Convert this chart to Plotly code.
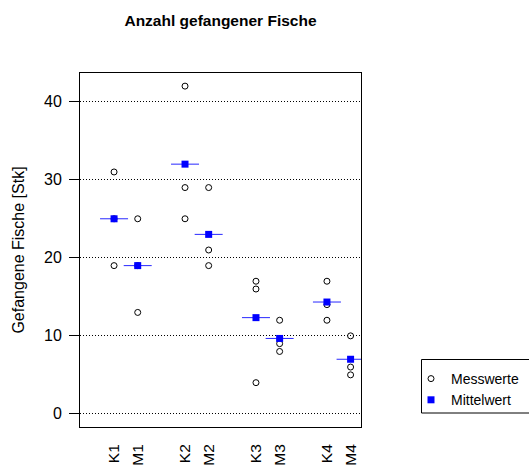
import numpy as np
import plotly.graph_objects as go

# Catch per station (three hauls each)
groups = ["K1", "M1", "K2", "M2", "K3", "M3", "K4", "M4"]
catch_K1 = [31, 25, 19]
catch_M1 = [25, 19, 13]
catch_K2 = [42, 29, 25]
catch_M2 = [29, 21, 19]
catch_K3 = [17, 16, 4]
catch_M3 = [12, 9, 8]
catch_K4 = [17, 14, 12]
catch_M4 = [10, 6, 5]
y_ticks = [0, 10, 20, 30, 40]

catches = [catch_K1, catch_M1, catch_K2, catch_M2,
           catch_K3, catch_M3, catch_K4, catch_M4]

# K/M pairs side by side, one empty slot between pairs
xpos = [i + i // 2 + 1 for i in range(len(groups))]

pts_x, pts_y = [], []
for x, vals in zip(xpos, catches):
    pts_x += [x] * len(vals)
    pts_y += vals
means = [float(np.mean(v)) for v in catches]

FONT = "Liberation Sans, Arial, sans-serif"

fig = go.Figure()
fig.add_trace(go.Scatter(
    x=pts_x, y=pts_y, mode="markers", name="Messwerte",
    marker=dict(symbol="circle-open", size=6, color="black",
                line=dict(width=1, color="black")),
))
fig.add_trace(go.Scatter(
    x=xpos, y=means, mode="markers", showlegend=False, hoverinfo="skip",
    marker=dict(symbol="line-ew", size=20, color="blue",
                line=dict(width=1, color="rgb(40,40,255)")),
))
fig.add_trace(go.Scatter(
    x=xpos, y=means, mode="markers", name="Mittelwert",
    marker=dict(symbol="square", size=7, color="blue", line=dict(width=0)),
))

# plot area in pixels: x 80..361, y 73..427
L, R, T, B = 80, 168, 73, 39
W, H = 529, 466
pw, ph = W - L - R, H - T - B

def px_x(p):
    return (p - L) / pw

def px_y(p):
    return (H - B - p) / ph

fig.update_layout(
    width=W, height=H,
    margin=dict(l=L, r=R, t=T, b=B, autoexpand=False),
    paper_bgcolor="white", plot_bgcolor="white",
    font=dict(family=FONT, size=16, color="black"),
    title=dict(text="<b>Anzahl gefangener Fische</b>", x=0.5, xref="paper",
               y=1 - 20.5 / H, yref="container", yanchor="middle",
               xanchor="center", font=dict(size=15.5)),
    xaxis=dict(range=[-0.44, 11.44], tickvals=xpos, ticktext=groups,
               tickangle=-90, ticks="", showgrid=False, zeroline=False,
               showline=True, linecolor="black", linewidth=1, mirror=True,
               ticklabelstandoff=10, tickfont=dict(size=15.5)),
    yaxis=dict(range=[-1.68, 43.68], tickvals=y_ticks, ticks="outside",
               ticklen=10, tickcolor="black", showgrid=True,
               gridcolor="black", griddash="1px,2px", gridwidth=1,
               zeroline=False, showline=True, linecolor="black",
               linewidth=1, mirror=True, tickfont=dict(size=16),
               ticklabelstandoff=4,
               title=dict(text="Gefangene Fische [Stk]",
                          font=dict(size=16))),
    legend=dict(x=px_x(411), y=px_y(363), xanchor="left", yanchor="top",
                xref="paper", yref="paper", bgcolor="rgba(0,0,0,0)",
                borderwidth=0, font=dict(size=14), tracegroupgap=0),
    shapes=[dict(type="rect", xref="paper", yref="paper",
                 x0=px_x(421.5), x1=px_x(540), y0=px_y(413), y1=px_y(359.5),
                 line=dict(color="black", width=1), fillcolor="rgba(0,0,0,0)")],
    showlegend=True,
)

fig.write_html("out.html")
